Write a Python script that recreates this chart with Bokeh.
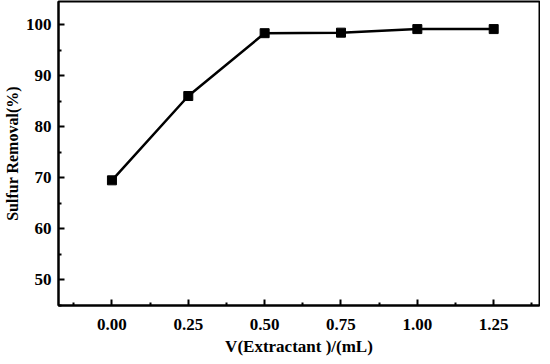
from bokeh.plotting import figure
from bokeh.models import FixedTicker, Range1d
from bokeh.embed import file_html
from bokeh.resources import INLINE

volume_ml = [0.00, 0.25, 0.50, 0.75, 1.00, 1.25]
sulfur_removal = [69.5, 86.0, 98.3, 98.4, 99.1, 99.1]
x_ticks = [0.00, 0.25, 0.50, 0.75, 1.00, 1.25]
x_minor = [-0.125, 0.125, 0.375, 0.625, 0.875, 1.125, 1.375]
y_ticks = [50, 60, 70, 80, 90, 100]
y_minor = [45, 55, 65, 75, 85, 95, 105]

p = figure(width=534, height=348, output_backend="svg", toolbar_location=None,
           x_range=Range1d(-0.175, 1.40), y_range=Range1d(45, 104.5),
           frame_width=481, frame_height=304)
p.min_border_left = 55
p.min_border_top = 1
p.min_border_right = 1
p.min_border_bottom = 44

p.line(volume_ml, sulfur_removal, line_color="black", line_width=2.5)
p.scatter(volume_ml, sulfur_removal, marker="square", size=9,
          fill_color="black", line_color="black")

p.grid.visible = False
p.outline_line_color = "black"
p.outline_line_width = 2
p.outline_line_alpha = 1

p.xaxis.ticker = FixedTicker(ticks=x_ticks, minor_ticks=x_minor)
p.yaxis.ticker = FixedTicker(ticks=y_ticks, minor_ticks=y_minor)
p.xaxis.major_label_overrides = {t: f"{t:.2f}" for t in x_ticks}

for ax in (p.xaxis, p.yaxis):
    ax.axis_line_width = 2
    ax.axis_line_color = "black"
    ax.major_tick_in = 6
    ax.major_tick_out = 0
    ax.minor_tick_in = 3
    ax.minor_tick_out = 0
    ax.major_tick_line_width = 2
    ax.minor_tick_line_width = 2
    ax.major_label_text_font = "Liberation Serif"
    ax.major_label_text_font_style = "bold"
    ax.major_label_text_font_size = "17px"
    ax.major_label_text_color = "black"
    ax.axis_label_text_font = "Liberation Serif"
    ax.axis_label_text_font_style = "bold"
    ax.axis_label_text_font_size = "17px"
    ax.axis_label_text_color = "black"

p.yaxis.axis_label_text_font_size = "16px"
p.xaxis.axis_label = "V(Extractant )/(mL)"
p.yaxis.axis_label = "Sulfur Removal(%)"
p.xaxis.major_label_standoff = 13
p.xaxis.axis_label_standoff = 4
p.yaxis.major_label_standoff = 7
p.yaxis.axis_label_standoff = 2

open("out.html", "w").write(file_html(p, INLINE))
